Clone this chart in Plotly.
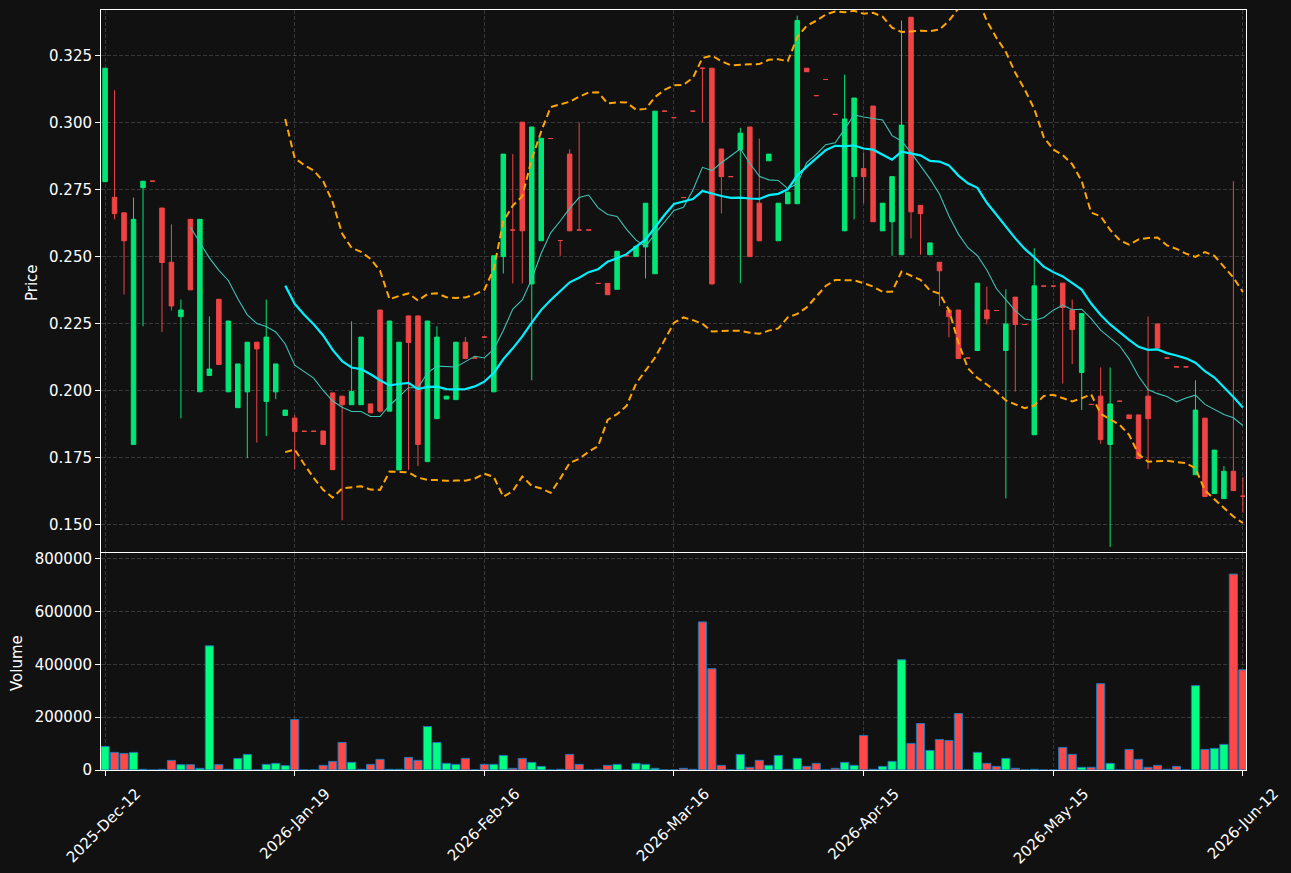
import pandas as pd
import plotly.graph_objects as go

# ---------------- data ----------------
opens = [0.2779, 0.2721, 0.2663, 0.1800, 0.2757, 0.2781, 0.2681, 0.2479, 0.2276, 0.2639,
         0.1996, 0.2057, 0.2341, 0.1996, 0.1937, 0.1996, 0.2181, 0.1960, 0.1996, 0.1908,
         0.1898, 0.1849, 0.1849, 0.1850, 0.1992, 0.1980, 0.1948, 0.1948, 0.1951, 0.2301,
         0.1924, 0.1705, 0.2279, 0.2279, 0.1736, 0.1896, 0.1969, 0.1967, 0.2181, 0.2122,
         0.2200, 0.1996, 0.2500, 0.2599, 0.3001, 0.2398, 0.2559, 0.2940, 0.2560, 0.2882,
         0.2599, 0.2599, 0.2400, 0.2400, 0.2378, 0.2503, 0.2500, 0.2536, 0.2436, 0.3042,
         0.3018, 0.2720, 0.3042, 0.3202, 0.3202, 0.2901, 0.2798, 0.2898, 0.2983, 0.2699,
         0.2857, 0.2559, 0.2697, 0.2697, 0.3202, 0.3100, 0.3160, 0.3030, 0.2596, 0.2798,
         0.2828, 0.3061, 0.2596, 0.2630, 0.2507, 0.3392, 0.2691, 0.2507, 0.2479, 0.2301,
         0.2301, 0.2122, 0.2150, 0.2301, 0.2299, 0.2150, 0.2349, 0.2247, 0.1836, 0.2390,
         0.2390, 0.2401, 0.2301, 0.2068, 0.1949, 0.1980, 0.1800, 0.1961, 0.1910, 0.1910,
         0.1980, 0.2249, 0.2122, 0.2089, 0.2089, 0.1687, 0.1898, 0.1617, 0.1598, 0.1700,
         0.1607]
highs = [0.3202, 0.3120, 0.2663, 0.2720, 0.2781, 0.2781, 0.2681, 0.2620, 0.2340, 0.2639,
         0.2639, 0.2277, 0.2341, 0.2260, 0.2100, 0.2181, 0.2181, 0.2340, 0.2100, 0.1928,
         0.1909, 0.1849, 0.1849, 0.1850, 0.1992, 0.1980, 0.2259, 0.2200, 0.1951, 0.2301,
         0.2260, 0.2181, 0.2279, 0.2279, 0.2260, 0.2240, 0.1980, 0.2181, 0.2200, 0.2122,
         0.2200, 0.2503, 0.2882, 0.2882, 0.3001, 0.2983, 0.2941, 0.2940, 0.2560, 0.2900,
         0.3000, 0.2599, 0.2400, 0.2400, 0.2520, 0.2503, 0.2538, 0.2699, 0.3042, 0.3042,
         0.3018, 0.2720, 0.3042, 0.3202, 0.3202, 0.2901, 0.2798, 0.2980, 0.2983, 0.2940,
         0.2882, 0.2699, 0.2740, 0.3398, 0.3202, 0.3100, 0.3160, 0.3030, 0.3178, 0.3091,
         0.2888, 0.3061, 0.2699, 0.2798, 0.3380, 0.3392, 0.2691, 0.2551, 0.2479, 0.2301,
         0.2301, 0.2122, 0.2401, 0.2388, 0.2299, 0.2378, 0.2349, 0.2247, 0.2531, 0.2390,
         0.2390, 0.2401, 0.2340, 0.2288, 0.1949, 0.2087, 0.2087, 0.1961, 0.1910, 0.1910,
         0.2277, 0.2249, 0.2122, 0.2089, 0.2089, 0.2039, 0.1898, 0.1779, 0.1719, 0.2781,
         0.1678]
lows = [0.2779, 0.2639, 0.2359, 0.1800, 0.2240, 0.2781, 0.2219, 0.2299, 0.1897, 0.2376,
        0.1996, 0.2057, 0.2098, 0.1996, 0.1937, 0.1749, 0.1807, 0.1831, 0.1969, 0.1908,
        0.1708, 0.1849, 0.1849, 0.1800, 0.1706, 0.1517, 0.1948, 0.1948, 0.1918, 0.1918,
        0.1924, 0.1705, 0.1705, 0.1719, 0.1736, 0.1896, 0.1969, 0.1967, 0.2120, 0.2122,
        0.2200, 0.1996, 0.2437, 0.2400, 0.2400, 0.2039, 0.2559, 0.2940, 0.2503, 0.2596,
        0.2599, 0.2599, 0.2400, 0.2358, 0.2378, 0.2503, 0.2500, 0.2419, 0.2436, 0.3042,
        0.3018, 0.2720, 0.3042, 0.3000, 0.2398, 0.2661, 0.2798, 0.2401, 0.2500, 0.2559,
        0.2857, 0.2559, 0.2697, 0.2697, 0.3189, 0.3100, 0.3160, 0.3030, 0.2596, 0.2639,
        0.2698, 0.2630, 0.2596, 0.2503, 0.2507, 0.2568, 0.2507, 0.2507, 0.2316, 0.2199,
        0.2120, 0.2122, 0.2150, 0.2247, 0.2299, 0.1599, 0.1997, 0.2247, 0.1836, 0.2390,
        0.2390, 0.2027, 0.2099, 0.1928, 0.1949, 0.1802, 0.1418, 0.1961, 0.1896, 0.1747,
        0.1708, 0.2159, 0.2122, 0.2089, 0.2089, 0.1687, 0.1606, 0.1617, 0.1598, 0.1628,
        0.1546]
closes = [0.3202, 0.2660, 0.2559, 0.2639, 0.2781, 0.2781, 0.2478, 0.2316, 0.2301, 0.2376,
          0.2639, 0.2081, 0.2098, 0.2260, 0.2100, 0.2181, 0.2156, 0.2200, 0.2100, 0.1928,
          0.1848, 0.1849, 0.1849, 0.1800, 0.1706, 0.1948, 0.1997, 0.2200, 0.1918, 0.1924,
          0.2260, 0.2181, 0.2180, 0.1800, 0.2260, 0.2200, 0.1980, 0.2181, 0.2120, 0.2122,
          0.2200, 0.2503, 0.2882, 0.2599, 0.2596, 0.2983, 0.2941, 0.2940, 0.2560, 0.2596,
          0.2599, 0.2599, 0.2400, 0.2358, 0.2520, 0.2503, 0.2538, 0.2699, 0.3042, 0.3042,
          0.3018, 0.2720, 0.3042, 0.3202, 0.2398, 0.2798, 0.2798, 0.2960, 0.2500, 0.2559,
          0.2882, 0.2699, 0.2740, 0.3380, 0.3189, 0.3100, 0.3160, 0.3030, 0.3013, 0.3091,
          0.2798, 0.2630, 0.2699, 0.2798, 0.2990, 0.2667, 0.2660, 0.2551, 0.2447, 0.2276,
          0.2120, 0.2122, 0.2401, 0.2268, 0.2299, 0.2249, 0.2247, 0.2247, 0.2391, 0.2390,
          0.2390, 0.2310, 0.2228, 0.2288, 0.1949, 0.1818, 0.1951, 0.1961, 0.1896, 0.1747,
          0.1896, 0.2159, 0.2122, 0.2089, 0.2089, 0.1928, 0.1606, 0.1779, 0.1700, 0.1628,
          0.1607]
volumes = [89300, 66700, 62900, 66700, 2500, 0, 2500, 36500, 20100, 20100,
           6300, 470400, 20100, 2500, 44000, 59100, 0, 21400, 25200, 16400,
           191200, 0, 0, 17600, 32700, 104400, 28900, 2500, 21400, 40300,
           2500, 2500, 47800, 36500, 164800, 104400, 25200, 21400, 44000, 0,
           21400, 21400, 55300, 6300, 44000, 28900, 13800, 0, 2500, 59100,
           21400, 0, 2500, 17600, 21400, 0, 25200, 21400, 6300, 0,
           0, 6300, 2500, 561000, 383600, 17600, 0, 59100, 10100, 36500,
           17600, 55300, 2500, 44000, 13800, 25200, 0, 6300, 28900, 17600,
           130800, 2500, 13800, 32700, 417600, 100600, 176100, 74200, 115700, 111900,
           213800, 0, 66700, 25200, 13800, 44000, 6300, 0, 2500, 0,
           0, 85500, 59100, 10100, 10100, 327000, 25200, 0, 78000, 40300,
           10100, 17600, 2500, 13800, 0, 319500, 78000, 81800, 96900, 742100,
           379900]
tick_labels = ["2025-Dec-12", "2026-Jan-19", "2026-Feb-16", "2026-Mar-16",
               "2026-Apr-15", "2026-May-15", "2026-Jun-12"]
price_ticks = [0.150, 0.175, 0.200, 0.225, 0.250, 0.275, 0.300, 0.325]
volume_ticks = [0, 200000, 400000, 600000, 800000]

# ---------------- derived series ----------------
n = len(closes)
idx = list(range(n))
cs = pd.Series(closes)
sma10 = cs.rolling(10).mean()
sma20 = cs.rolling(20).mean()
std20 = cs.rolling(20).std(ddof=0)
bb_up = sma20 + 2 * std20
bb_lo = sma20 - 2 * std20

UP_C = "#00e676"
DN_C = "#ef4444"
VUP_C = "#00ff80"
VDN_C = "#ff4848"
BG = "#111111"
GRID = "rgba(128,128,128,0.35)"
FONT = "DejaVu Sans"

up_i = [i for i in idx if closes[i] > opens[i]]
dn_i = [i for i in idx if closes[i] <= opens[i]]

fig = go.Figure()


def candle(ids, color):
    return go.Candlestick(
        x=[i for i in ids], open=[opens[i] for i in ids], high=[highs[i] for i in ids],
        low=[lows[i] for i in ids], close=[closes[i] for i in ids],
        increasing=dict(line=dict(color=color, width=1), fillcolor=color),
        decreasing=dict(line=dict(color=color, width=1), fillcolor=color),
        whiskerwidth=0, xaxis="x", yaxis="y", showlegend=False, hoverinfo="skip")


fig.add_trace(candle(up_i, UP_C))
fig.add_trace(candle(dn_i, DN_C))

fig.add_trace(go.Scatter(x=idx, y=bb_up, mode="lines", xaxis="x", yaxis="y",
                         line=dict(color="#ffa500", width=2, dash="7px,4px")))
fig.add_trace(go.Scatter(x=idx, y=bb_lo, mode="lines", xaxis="x", yaxis="y",
                         line=dict(color="#ffa500", width=2, dash="7px,4px")))
fig.add_trace(go.Scatter(x=idx, y=sma10, mode="lines", xaxis="x", yaxis="y",
                         line=dict(color="#3cc3b3", width=1.1)))
fig.add_trace(go.Scatter(x=idx, y=sma20, mode="lines", xaxis="x", yaxis="y",
                         line=dict(color="#00f0ff", width=2.2)))

vcolors = [VUP_C if closes[i] > opens[i] else VDN_C for i in idx]
fig.add_trace(go.Bar(x=idx, y=volumes, xaxis="x2", yaxis="y2", width=0.86,
                     marker=dict(color=vcolors, line=dict(color="#1f77b4", width=1))))

xr = [-0.43, 120.33]
common_axis = dict(showline=True, mirror=True, linecolor="white", linewidth=1,
                   showgrid=True, gridcolor=GRID, griddash="4px,2px", gridwidth=1,
                   zeroline=False, color="white", automargin=False,
                   tickfont=dict(family=FONT, size=15, color="white"))

fig.update_layout(
    width=1291, height=873,
    paper_bgcolor=BG, plot_bgcolor=BG,
    margin=dict(l=101, r=45, t=10, b=103, autoexpand=False),
    showlegend=False,
    boxgap=0.32,
    font=dict(family=FONT, size=15, color="white"),
    xaxis=dict(domain=[0, 1], range=xr, anchor="y", matches="x2",
               tickvals=list(range(0, n, 20)), showticklabels=False, ticks="",
               rangeslider=dict(visible=False), **common_axis),
    yaxis=dict(domain=[0.2868, 1], range=[0.1399, 0.3419], anchor="x",
               tickvals=price_ticks, tickformat=".3f", ticks="outside", ticklen=5,
               tickcolor="white", **common_axis),
    xaxis2=dict(domain=[0, 1], range=xr, anchor="y2",
                tickvals=list(range(0, n, 20)), ticktext=tick_labels, tickangle=-45,
                ticklabelshift=31, ticklabelstandoff=3,
                ticks="outside", ticklen=5, tickcolor="white", **common_axis),
    yaxis2=dict(domain=[0, 0.2855], range=[0, 822000], anchor="x2",
                tickvals=volume_ticks, tickformat="d", ticks="outside", ticklen=5,
                tickcolor="white", **common_axis),
    annotations=[
        dict(text="Price", xref="paper", yref="paper", x=(32 - 101) / 1145,
             y=(770 - 283) / 760, textangle=-90, showarrow=False,
             xanchor="center", yanchor="middle",
             font=dict(family=FONT, size=15, color="white")),
        dict(text="Volume", xref="paper", yref="paper", x=(17 - 101) / 1145,
             y=(770 - 663) / 760, textangle=-90, showarrow=False,
             xanchor="center", yanchor="middle",
             font=dict(family=FONT, size=15, color="white")),
    ],
)

fig.write_html("out.html")
